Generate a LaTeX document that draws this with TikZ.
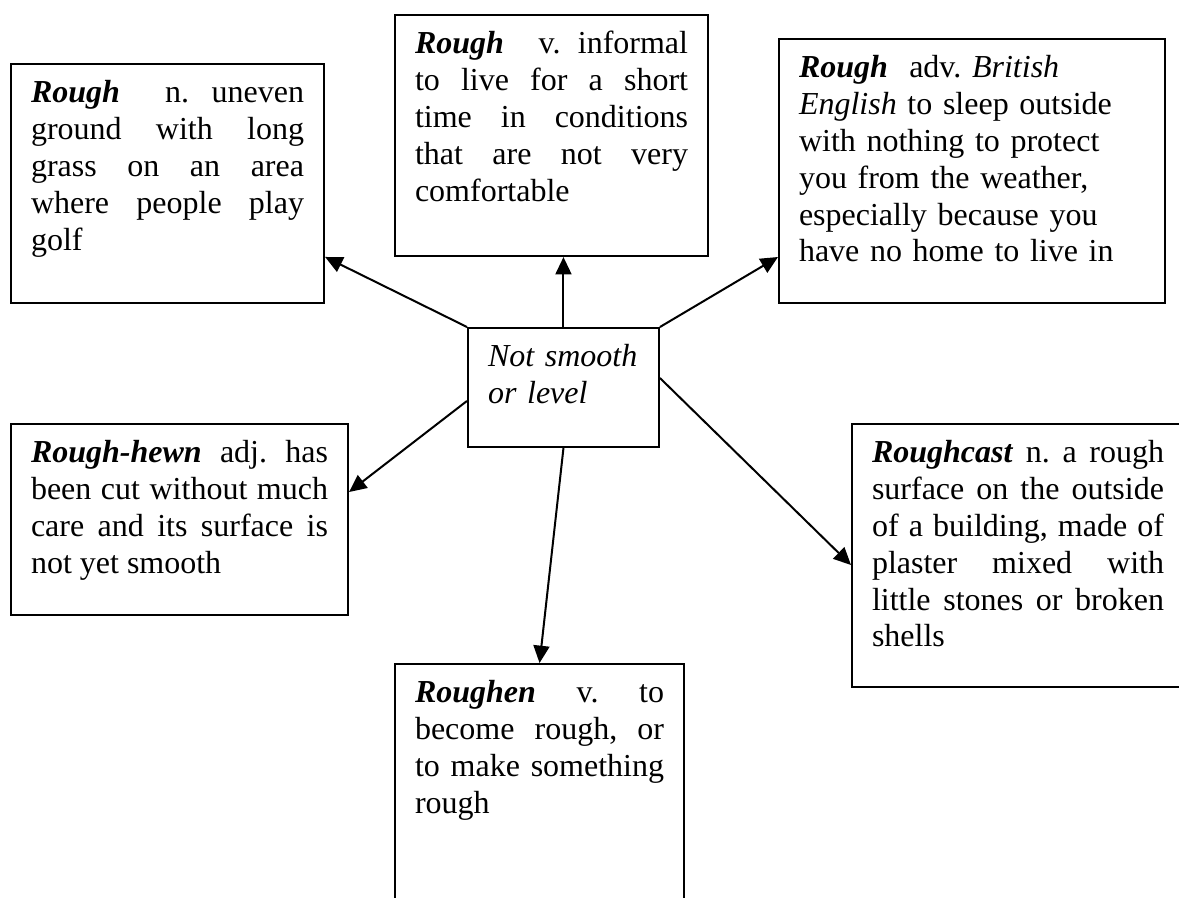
\documentclass[tikz,border=0pt]{standalone}
\usepackage{fontspec}
\setmainfont{Liberation Serif}
\usetikzlibrary{arrows.meta,calc}

\newcommand{\headword}[1]{\textbf{\textit{#1}}}

\tikzset{
  defbox/.style={draw, line width=0.75pt, anchor=north west,
    inner xsep=7.5pt, inner ysep=3.6pt, text height=11pt,
    align=justify, font=\fontsize{12}{13.8}\selectfont\frenchspacing},
  link/.style={line width=0.75pt, -{Triangle[length=6.5pt,width=6pt]}}
}

\begin{document}
\begin{tikzpicture}[x=0.375pt,y=-0.375pt]
\clip (0,0) rectangle (1179,897);
% centre box
\node[defbox, align=left, text width=56.6pt, text depth=26.4pt, font=\fontsize{12}{13.8}\selectfont\itshape] (hub) at (467,327) {Not smooth\\or level};
% the six meanings
\node[defbox, text width=102.4pt, text depth=71.4pt] (noun) at (10,63)
  {\headword{Rough}\ \ n. uneven\linebreak ground with long\linebreak grass on an area\linebreak where people play\linebreak golf};
\node[defbox, text width=102.4pt, text depth=72.2pt] (verb) at (394,14)
  {\headword{Rough}\ \ v. informal\linebreak to live for a short\linebreak time in conditions\linebreak that are not very\linebreak comfortable};
\node[defbox, align=left, text width=129.7pt, text depth=80.8pt] (adverb) at (778,38)
  {\headword{Rough}\ \ adv. \textit{British}\\\textit{English} to sleep outside\\with nothing to protect\\you from the weather,\\especially because you\\have no home to live in};
\node[defbox, text width=111.4pt, text depth=53.4pt] (hewn) at (10,423)
  {\headword{Rough-hewn} adj. has\linebreak been cut without much\linebreak care and its surface is\linebreak not yet smooth};
\node[defbox, text width=109.5pt, text depth=80.4pt] (cast) at (851,423)
  {\headword{Roughcast} n. a rough\linebreak surface on the outside\linebreak of a building, made of\linebreak plaster mixed with\linebreak little stones or broken\linebreak shells};
\node[defbox, text width=93.4pt, text depth=79.3pt] (roughen) at (394,663)
  {\headword{Roughen} v. to\linebreak become rough, or\linebreak to make something\linebreak rough};
% arrows out of the centre
\draw[link] (hub.north west) -- ($(noun.south east)+(0,-47)$);
\draw[link] (hub.north) -- (hub.north |- verb.south);
\draw[link] (hub.north east) -- ($(adverb.south west)+(0,-47)$);
\draw[link] ($(hub.south west)+(0,-47)$) -- ($(hewn.north east)+(0,69)$);
\draw[link] ($(hub.north east)+(0,51)$) -- ($(cast.north west)+(0,142)$);
\draw[link] (hub.south) -- (roughen.north);
\end{tikzpicture}
\end{document}
